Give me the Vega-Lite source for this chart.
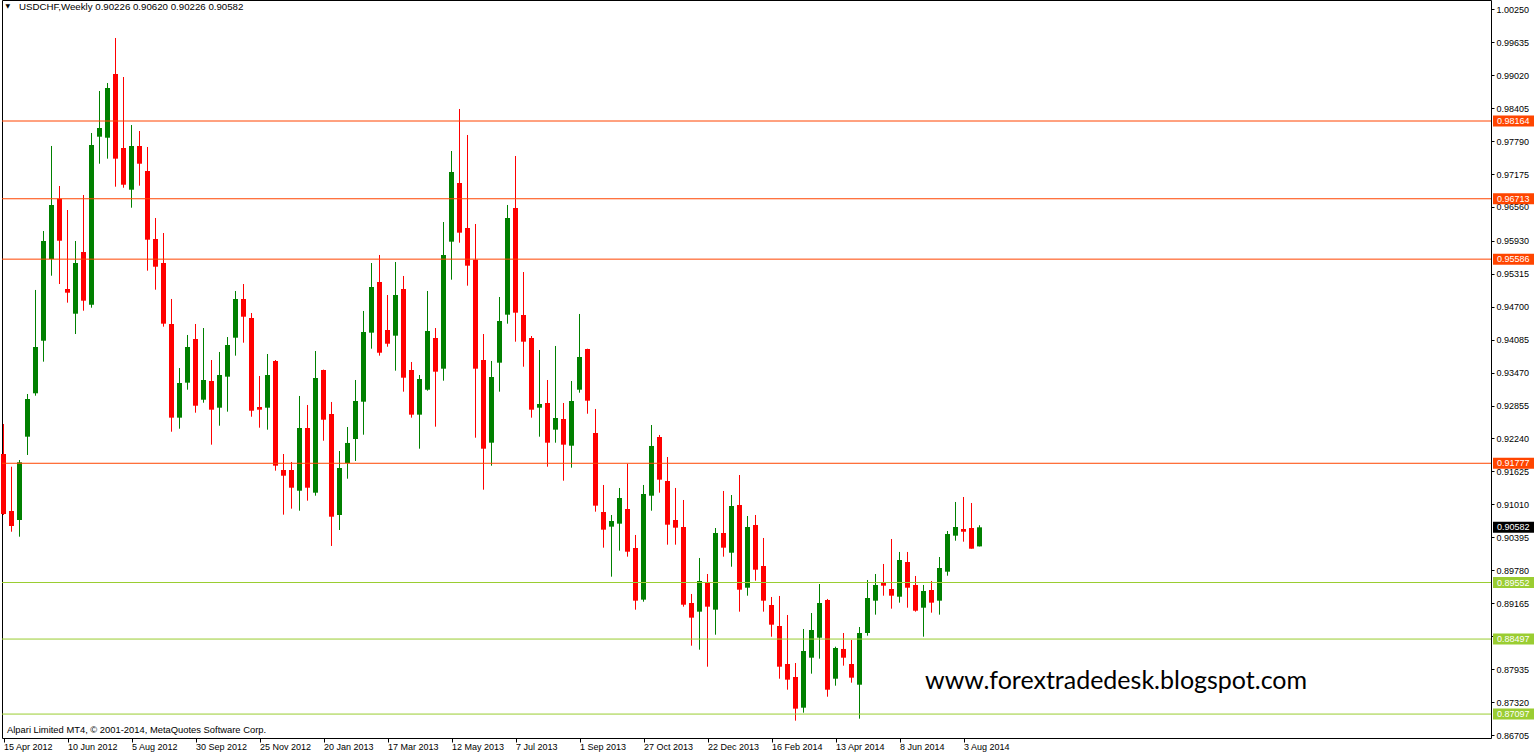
{
  "$schema": "https://vega.github.io/schema/vega-lite/v6.json",
  "autosize": "none",
  "width": 1489,
  "height": 738,
  "padding": {"left": 2, "top": 0, "right": 43, "bottom": 18},
  "background": "white",
  "config": {
    "view": {"stroke": "black", "strokeWidth": 1},
    "font": "Liberation Sans"
  },
  "resolve": {"axis": {"x": "independent", "y": "independent"}},
  "datasets": {
    "candles": [
      {"d":"2012-04-15","o":0.91950,"h":0.92510,"l":0.90812,"c":0.90831},
      {"d":"2012-04-22","o":0.90887,"h":0.91713,"l":0.90500,"c":0.90607},
      {"d":"2012-04-29","o":0.90719,"h":0.91838,"l":0.90407,"c":0.91795},
      {"d":"2012-05-06","o":0.92273,"h":0.93070,"l":0.91932,"c":0.92977},
      {"d":"2012-05-13","o":0.93083,"h":0.95011,"l":0.93038,"c":0.93947},
      {"d":"2012-05-20","o":0.94064,"h":0.96111,"l":0.93673,"c":0.95925},
      {"d":"2012-05-27","o":0.95589,"h":0.97698,"l":0.95277,"c":0.96597},
      {"d":"2012-06-03","o":0.96714,"h":0.96951,"l":0.95122,"c":0.95930},
      {"d":"2012-06-10","o":0.95029,"h":0.96503,"l":0.94774,"c":0.94960},
      {"d":"2012-06-17","o":0.94568,"h":0.95925,"l":0.94189,"c":0.95514},
      {"d":"2012-06-24","o":0.95720,"h":0.96783,"l":0.94624,"c":0.94811},
      {"d":"2012-07-01","o":0.94736,"h":0.97940,"l":0.94680,"c":0.97716},
      {"d":"2012-07-08","o":0.97871,"h":0.98724,"l":0.97367,"c":0.98033},
      {"d":"2012-07-15","o":0.97852,"h":0.98873,"l":0.97461,"c":0.98780},
      {"d":"2012-07-22","o":0.99041,"h":0.99713,"l":0.96938,"c":0.97461},
      {"d":"2012-07-29","o":0.97660,"h":0.98985,"l":0.96919,"c":0.96975},
      {"d":"2012-08-05","o":0.96882,"h":0.98089,"l":0.96546,"c":0.97698},
      {"d":"2012-08-12","o":0.97698,"h":0.97977,"l":0.96957,"c":0.97367},
      {"d":"2012-08-19","o":0.97231,"h":0.97679,"l":0.95371,"c":0.95949},
      {"d":"2012-08-26","o":0.95962,"h":0.96354,"l":0.95016,"c":0.95445},
      {"d":"2012-09-02","o":0.95514,"h":0.96074,"l":0.94326,"c":0.94382},
      {"d":"2012-09-09","o":0.94376,"h":0.94843,"l":0.92366,"c":0.92628},
      {"d":"2012-09-16","o":0.92628,"h":0.93555,"l":0.92422,"c":0.93275},
      {"d":"2012-09-23","o":0.93281,"h":0.94171,"l":0.93150,"c":0.93947},
      {"d":"2012-09-30","o":0.94096,"h":0.94376,"l":0.92721,"c":0.92851},
      {"d":"2012-10-07","o":0.92963,"h":0.94301,"l":0.92907,"c":0.93331},
      {"d":"2012-10-14","o":0.93312,"h":0.93704,"l":0.92124,"c":0.92777},
      {"d":"2012-10-21","o":0.92814,"h":0.93854,"l":0.92478,"c":0.93424},
      {"d":"2012-10-28","o":0.93393,"h":0.94133,"l":0.92740,"c":0.93984},
      {"d":"2012-11-04","o":0.94120,"h":0.94992,"l":0.93785,"c":0.94843},
      {"d":"2012-11-11","o":0.94843,"h":0.95122,"l":0.94027,"c":0.94512},
      {"d":"2012-11-18","o":0.94488,"h":0.94581,"l":0.92646,"c":0.92758},
      {"d":"2012-11-25","o":0.92827,"h":0.93406,"l":0.92441,"c":0.92777},
      {"d":"2012-12-02","o":0.92814,"h":0.93816,"l":0.92404,"c":0.93424},
      {"d":"2012-12-09","o":0.93686,"h":0.93704,"l":0.91639,"c":0.91732},
      {"d":"2012-12-16","o":0.91652,"h":0.91950,"l":0.90818,"c":0.91545},
      {"d":"2012-12-23","o":0.91652,"h":0.91801,"l":0.90930,"c":0.91321},
      {"d":"2012-12-30","o":0.91265,"h":0.93033,"l":0.90892,"c":0.92435},
      {"d":"2013-01-06","o":0.92435,"h":0.92865,"l":0.91079,"c":0.91321},
      {"d":"2013-01-13","o":0.91228,"h":0.93872,"l":0.91172,"c":0.93368},
      {"d":"2013-01-20","o":0.93518,"h":0.93525,"l":0.92198,"c":0.92590},
      {"d":"2013-01-27","o":0.92697,"h":0.92921,"l":0.90234,"c":0.90780},
      {"d":"2013-02-03","o":0.90812,"h":0.92006,"l":0.90532,"c":0.91689},
      {"d":"2013-02-10","o":0.91782,"h":0.92454,"l":0.91489,"c":0.92156},
      {"d":"2013-02-17","o":0.92230,"h":0.93331,"l":0.91820,"c":0.92939},
      {"d":"2013-02-24","o":0.92926,"h":0.94619,"l":0.92310,"c":0.94227},
      {"d":"2013-03-03","o":0.94214,"h":0.95514,"l":0.93915,"c":0.95066},
      {"d":"2013-03-10","o":0.95160,"h":0.95664,"l":0.93785,"c":0.93840},
      {"d":"2013-03-17","o":0.94264,"h":0.94917,"l":0.93952,"c":0.94008},
      {"d":"2013-03-24","o":0.94158,"h":0.95533,"l":0.93505,"c":0.94917},
      {"d":"2013-03-31","o":0.95029,"h":0.95272,"l":0.93113,"c":0.93374},
      {"d":"2013-04-07","o":0.93518,"h":0.93667,"l":0.92628,"c":0.92684},
      {"d":"2013-04-14","o":0.92684,"h":0.93424,"l":0.92049,"c":0.93350},
      {"d":"2013-04-21","o":0.93150,"h":0.94992,"l":0.93131,"c":0.94245},
      {"d":"2013-04-28","o":0.94115,"h":0.94301,"l":0.92460,"c":0.93486},
      {"d":"2013-05-05","o":0.93542,"h":0.96279,"l":0.93318,"c":0.95664},
      {"d":"2013-05-12","o":0.95912,"h":0.97604,"l":0.95203,"c":0.97212},
      {"d":"2013-05-19","o":0.97007,"h":0.98388,"l":0.95893,"c":0.96080},
      {"d":"2013-05-26","o":0.96167,"h":0.97903,"l":0.95091,"c":0.95464},
      {"d":"2013-06-02","o":0.95576,"h":0.96242,"l":0.92254,"c":0.93542},
      {"d":"2013-06-09","o":0.93704,"h":0.94189,"l":0.91284,"c":0.92049},
      {"d":"2013-06-16","o":0.92161,"h":0.93686,"l":0.91732,"c":0.93387},
      {"d":"2013-06-23","o":0.93654,"h":0.94880,"l":0.93113,"c":0.94432},
      {"d":"2013-06-30","o":0.94550,"h":0.96597,"l":0.94382,"c":0.96354},
      {"d":"2013-07-07","o":0.96541,"h":0.97511,"l":0.94046,"c":0.94587},
      {"d":"2013-07-14","o":0.94544,"h":0.95346,"l":0.93579,"c":0.94046},
      {"d":"2013-07-21","o":0.94115,"h":0.94152,"l":0.92628,"c":0.92777},
      {"d":"2013-07-28","o":0.92814,"h":0.93891,"l":0.92273,"c":0.92883},
      {"d":"2013-08-04","o":0.92902,"h":0.93331,"l":0.91713,"c":0.92161},
      {"d":"2013-08-11","o":0.92404,"h":0.93966,"l":0.92161,"c":0.92622},
      {"d":"2013-08-18","o":0.92603,"h":0.92902,"l":0.91452,"c":0.92124},
      {"d":"2013-08-25","o":0.92105,"h":0.93312,"l":0.91695,"c":0.92939},
      {"d":"2013-09-01","o":0.93150,"h":0.94563,"l":0.93094,"c":0.93760},
      {"d":"2013-09-08","o":0.93910,"h":0.93915,"l":0.92702,"c":0.92945},
      {"d":"2013-09-15","o":0.92342,"h":0.92790,"l":0.90874,"c":0.90986},
      {"d":"2013-09-22","o":0.90868,"h":0.91372,"l":0.90202,"c":0.90538},
      {"d":"2013-09-29","o":0.90594,"h":0.90812,"l":0.89661,"c":0.90700},
      {"d":"2013-10-06","o":0.90650,"h":0.91316,"l":0.90146,"c":0.91129},
      {"d":"2013-10-13","o":0.90924,"h":0.91769,"l":0.90034,"c":0.90127},
      {"d":"2013-10-20","o":0.90196,"h":0.90439,"l":0.89045,"c":0.89213},
      {"d":"2013-10-27","o":0.89232,"h":0.91372,"l":0.89194,"c":0.91204},
      {"d":"2013-11-03","o":0.91172,"h":0.92491,"l":0.90892,"c":0.92100},
      {"d":"2013-11-10","o":0.92267,"h":0.92305,"l":0.91228,"c":0.91471},
      {"d":"2013-11-17","o":0.91446,"h":0.91894,"l":0.90258,"c":0.90631},
      {"d":"2013-11-24","o":0.90719,"h":0.91316,"l":0.90258,"c":0.90575},
      {"d":"2013-12-01","o":0.90588,"h":0.91092,"l":0.89101,"c":0.89138},
      {"d":"2013-12-08","o":0.89170,"h":0.89338,"l":0.88373,"c":0.88896},
      {"d":"2013-12-15","o":0.89008,"h":0.90010,"l":0.88299,"c":0.89580},
      {"d":"2013-12-22","o":0.89543,"h":0.89711,"l":0.87981,"c":0.89101},
      {"d":"2013-12-29","o":0.89045,"h":0.90569,"l":0.88578,"c":0.90476},
      {"d":"2014-01-05","o":0.90476,"h":0.91260,"l":0.90034,"c":0.90202},
      {"d":"2014-01-12","o":0.90108,"h":0.91185,"l":0.89847,"c":0.90980},
      {"d":"2014-01-19","o":0.90999,"h":0.91558,"l":0.89008,"c":0.89418},
      {"d":"2014-01-26","o":0.89455,"h":0.90793,"l":0.89306,"c":0.90588},
      {"d":"2014-02-02","o":0.90625,"h":0.90812,"l":0.89586,"c":0.89791},
      {"d":"2014-02-09","o":0.89860,"h":0.90383,"l":0.89008,"c":0.89213},
      {"d":"2014-02-16","o":0.89133,"h":0.89282,"l":0.88541,"c":0.88765},
      {"d":"2014-02-23","o":0.88741,"h":0.89301,"l":0.87757,"c":0.87981},
      {"d":"2014-03-02","o":0.88032,"h":0.88946,"l":0.87552,"c":0.87739},
      {"d":"2014-03-09","o":0.87789,"h":0.88050,"l":0.86974,"c":0.87198},
      {"d":"2014-03-16","o":0.87216,"h":0.88685,"l":0.87123,"c":0.88274},
      {"d":"2014-03-23","o":0.88149,"h":0.88983,"l":0.87851,"c":0.88666},
      {"d":"2014-03-30","o":0.88522,"h":0.89524,"l":0.88131,"c":0.89170},
      {"d":"2014-04-06","o":0.89226,"h":0.89245,"l":0.87421,"c":0.87552},
      {"d":"2014-04-13","o":0.87757,"h":0.88354,"l":0.87627,"c":0.88330},
      {"d":"2014-04-20","o":0.88312,"h":0.88610,"l":0.88000,"c":0.88149},
      {"d":"2014-04-27","o":0.88032,"h":0.88480,"l":0.87683,"c":0.87776},
      {"d":"2014-05-04","o":0.87645,"h":0.88722,"l":0.87011,"c":0.88610},
      {"d":"2014-05-11","o":0.88610,"h":0.89599,"l":0.88560,"c":0.89263},
      {"d":"2014-05-18","o":0.89213,"h":0.89711,"l":0.88952,"c":0.89506},
      {"d":"2014-05-25","o":0.89543,"h":0.89898,"l":0.89306,"c":0.89493},
      {"d":"2014-06-01","o":0.89431,"h":0.90364,"l":0.89064,"c":0.89306},
      {"d":"2014-06-08","o":0.89287,"h":0.90122,"l":0.89176,"c":0.89972},
      {"d":"2014-06-15","o":0.89935,"h":0.90122,"l":0.89082,"c":0.89455},
      {"d":"2014-06-22","o":0.89506,"h":0.89674,"l":0.89008,"c":0.89026},
      {"d":"2014-06-29","o":0.89082,"h":0.89506,"l":0.88541,"c":0.89394},
      {"d":"2014-07-06","o":0.89412,"h":0.89580,"l":0.88989,"c":0.89176},
      {"d":"2014-07-13","o":0.89213,"h":0.90028,"l":0.88952,"c":0.89823},
      {"d":"2014-07-20","o":0.89754,"h":0.90513,"l":0.89679,"c":0.90457},
      {"d":"2014-07-27","o":0.90426,"h":0.91055,"l":0.90332,"c":0.90588},
      {"d":"2014-08-03","o":0.90551,"h":0.91148,"l":0.90314,"c":0.90500},
      {"d":"2014-08-10","o":0.90569,"h":0.91036,"l":0.90183,"c":0.90183},
      {"d":"2014-08-17","o":0.90226,"h":0.90620,"l":0.90226,"c":0.90582}
    ],
    "levels": [
      {"p":0.98164,"k":"r"},
      {"p":0.96713,"k":"r"},
      {"p":0.95586,"k":"r"},
      {"p":0.91777,"k":"r"},
      {"p":0.89552,"k":"s"},
      {"p":0.88497,"k":"s"},
      {"p":0.87097,"k":"s"}
    ],
    "last": [{"p":0.90582}]
  },
  "layer": [
    {
      "data": {"name": "candles"},
      "mark": {"type": "rule", "strokeWidth": 1},
      "encoding": {
        "x": {
          "field": "d",
          "type": "temporal",
          "scale": {"type": "utc", "domain": [1334334600000, 1446903000000], "nice": false, "padding": 0},
          "axis": {
            "orient": "bottom",
            "values": [1334448000000,1339286400000,1344124800000,1348963200000,1353801600000,1358640000000,1363478400000,1368316800000,1373155200000,1377993600000,1382832000000,1387670400000,1392508800000,1397347200000,1402185600000,1407024000000],
            "format": "%-d %b %Y",
            "labelAlign": "left",
            "labelBaseline": "top",
            "labelPadding": 0,
            "tickSize": 4,
            "tickColor": "black",
            "labelColor": "black",
            "labelFont": "Liberation Sans",
            "labelFontSize": 9,
            "labelFlush": false,
            "labelOverlap": false,
            "labelBound": false,
            "domain": false,
            "grid": false,
            "title": null
          }
        },
        "y": {
          "field": "l",
          "type": "quantitative",
          "scale": {"domain": [0.866506, 1.004219], "nice": false, "zero": false, "padding": 0},
          "axis": {
            "orient": "right",
            "values": [1.0025,0.99635,0.9902,0.98405,0.9779,0.97175,0.9656,0.9593,0.95315,0.947,0.94085,0.9347,0.92855,0.9224,0.91625,0.9101,0.90395,0.8978,0.89165,0.8855,0.87935,0.8732,0.86705],
            "format": ".5f",
            "tickSize": 3,
            "tickColor": "black",
            "labelPadding": 2,
            "labelColor": "black",
            "labelFont": "Liberation Sans",
            "labelFontSize": 9,
            "labelOverlap": false,
            "labelBound": false,
            "labelFlush": false,
            "domain": false,
            "grid": false,
            "title": null
          }
        },
        "y2": {"field": "h"},
        "color": {"condition": {"test": "datum.c >= datum.o", "value": "#008000"}, "value": "#ff0000"}
      }
    },
    {
      "data": {"name": "candles"},
      "mark": {"type": "bar", "size": 5, "orient": "vertical"},
      "encoding": {
        "x": {"field": "d", "type": "temporal", "scale": {"type": "utc", "domain": [1334334600000, 1446903000000], "nice": false, "padding": 0}, "axis": null},
        "y": {"field": "o", "type": "quantitative", "scale": {"domain": [0.866506, 1.004219], "nice": false, "zero": false, "padding": 0}, "axis": null},
        "y2": {"field": "c"},
        "color": {"condition": {"test": "datum.c >= datum.o", "value": "#008000"}, "value": "#ff0000"}
      }
    },
    {
      "data": {"name": "levels"},
      "mark": {"type": "rule", "strokeWidth": 1},
      "encoding": {
        "y": {"field": "p", "type": "quantitative", "scale": {"domain": [0.866506, 1.004219], "nice": false, "zero": false, "padding": 0}, "axis": null},
        "color": {"field": "k", "type": "nominal", "scale": {"domain": ["r", "s"], "range": ["#ff4500", "#9acd32"]}, "legend": null}
      }
    },
    {
      "data": {"name": "levels"},
      "mark": {"type": "bar", "orient": "horizontal", "size": 11},
      "encoding": {
        "x": {"datum": {"year": 2015, "month": 11, "date": 9, "hours": 7, "minutes": 30, "utc": true}, "type": "temporal", "scale": {"type": "utc", "domain": [1334334600000, 1446903000000], "nice": false, "padding": 0}, "axis": null},
        "x2": {"datum": {"year": 2015, "month": 12, "date": 15, "hours": 4, "minutes": 30, "utc": true}},
        "y": {"field": "p", "type": "quantitative", "scale": {"domain": [0.866506, 1.004219], "nice": false, "zero": false, "padding": 0}, "axis": null},
        "color": {"field": "k", "type": "nominal", "scale": {"domain": ["r", "s"], "range": ["#ff4500", "#9acd32"]}, "legend": null}
      }
    },
    {
      "data": {"name": "levels"},
      "mark": {"type": "text", "align": "left", "baseline": "middle", "color": "white", "font": "Liberation Sans", "fontSize": 9},
      "encoding": {
        "x": {"datum": {"year": 2015, "month": 11, "date": 12, "hours": 19, "minutes": 30, "utc": true}, "type": "temporal", "scale": {"type": "utc", "domain": [1334334600000, 1446903000000], "nice": false, "padding": 0}, "axis": null},
        "y": {"field": "p", "type": "quantitative", "scale": {"domain": [0.866506, 1.004219], "nice": false, "zero": false, "padding": 0}, "axis": null},
        "text": {"field": "p", "type": "quantitative", "format": ".5f"}
      }
    },
    {
      "data": {"name": "last"},
      "mark": {"type": "bar", "orient": "horizontal", "size": 11, "color": "black"},
      "encoding": {
        "x": {"datum": {"year": 2015, "month": 11, "date": 9, "hours": 7, "minutes": 30, "utc": true}, "type": "temporal", "scale": {"type": "utc", "domain": [1334334600000, 1446903000000], "nice": false, "padding": 0}, "axis": null},
        "x2": {"datum": {"year": 2015, "month": 12, "date": 15, "hours": 4, "minutes": 30, "utc": true}},
        "y": {"field": "p", "type": "quantitative", "scale": {"domain": [0.866506, 1.004219], "nice": false, "zero": false, "padding": 0}, "axis": null}
      }
    },
    {
      "data": {"name": "last"},
      "mark": {"type": "text", "align": "left", "baseline": "middle", "color": "white", "font": "Liberation Sans", "fontSize": 9},
      "encoding": {
        "x": {"datum": {"year": 2015, "month": 11, "date": 12, "hours": 19, "minutes": 30, "utc": true}, "type": "temporal", "scale": {"type": "utc", "domain": [1334334600000, 1446903000000], "nice": false, "padding": 0}, "axis": null},
        "y": {"field": "p", "type": "quantitative", "scale": {"domain": [0.866506, 1.004219], "nice": false, "zero": false, "padding": 0}, "axis": null},
        "text": {"field": "p", "type": "quantitative", "format": ".5f"}
      }
    },
    {
      "data": {"values": [{}]},
      "mark": {"type": "text", "text": "▼", "align": "left", "baseline": "middle", "color": "black", "font": "DejaVu Sans", "fontSize": 6},
      "encoding": {
        "x": {"datum": {"year": 2012, "month": 4, "date": 16, "hours": 18, "minutes": 0, "utc": true}, "type": "temporal", "scale": {"type": "utc", "domain": [1334334600000, 1446903000000], "nice": false, "padding": 0}, "axis": null},
        "y": {"datum": 1.0031, "type": "quantitative", "scale": {"domain": [0.866506, 1.004219], "nice": false, "zero": false, "padding": 0}, "axis": null}
      }
    },
    {
      "data": {"values": [{}]},
      "mark": {"type": "text", "text": "USDCHF,Weekly 0.90226 0.90620 0.90226 0.90582", "align": "left", "baseline": "alphabetic", "color": "black", "font": "Liberation Sans", "fontSize": 9.7},
      "encoding": {
        "x": {"datum": {"year": 2012, "month": 4, "date": 28, "hours": 13, "minutes": 30, "utc": true}, "type": "temporal", "scale": {"type": "utc", "domain": [1334334600000, 1446903000000], "nice": false, "padding": 0}, "axis": null},
        "y": {"datum": 1.00235, "type": "quantitative", "scale": {"domain": [0.866506, 1.004219], "nice": false, "zero": false, "padding": 0}, "axis": null}
      }
    },
    {
      "data": {"values": [{}]},
      "mark": {"type": "text", "text": "Alpari Limited MT4, © 2001-2014, MetaQuotes Software Corp.", "align": "left", "baseline": "alphabetic", "color": "black", "font": "Liberation Sans", "fontSize": 9.4},
      "encoding": {
        "x": {"datum": {"year": 2012, "month": 4, "date": 18, "hours": 1, "minutes": 30, "utc": true}, "type": "temporal", "scale": {"type": "utc", "domain": [1334334600000, 1446903000000], "nice": false, "padding": 0}, "axis": null},
        "y": {"datum": 0.86744, "type": "quantitative", "scale": {"domain": [0.866506, 1.004219], "nice": false, "zero": false, "padding": 0}, "axis": null}
      }
    },
    {
      "data": {"values": [{}]},
      "mark": {"type": "text", "text": "www.forextradedesk.blogspot.com", "align": "left", "baseline": "alphabetic", "color": "black", "font": "Lato", "fontSize": 25},
      "encoding": {
        "x": {"datum": {"year": 2014, "month": 6, "date": 30, "hours": 7, "minutes": 30, "utc": true}, "type": "temporal", "scale": {"type": "utc", "domain": [1334334600000, 1446903000000], "nice": false, "padding": 0}, "axis": null},
        "y": {"datum": 0.87571, "type": "quantitative", "scale": {"domain": [0.866506, 1.004219], "nice": false, "zero": false, "padding": 0}, "axis": null}
      }
    }
  ]
}
